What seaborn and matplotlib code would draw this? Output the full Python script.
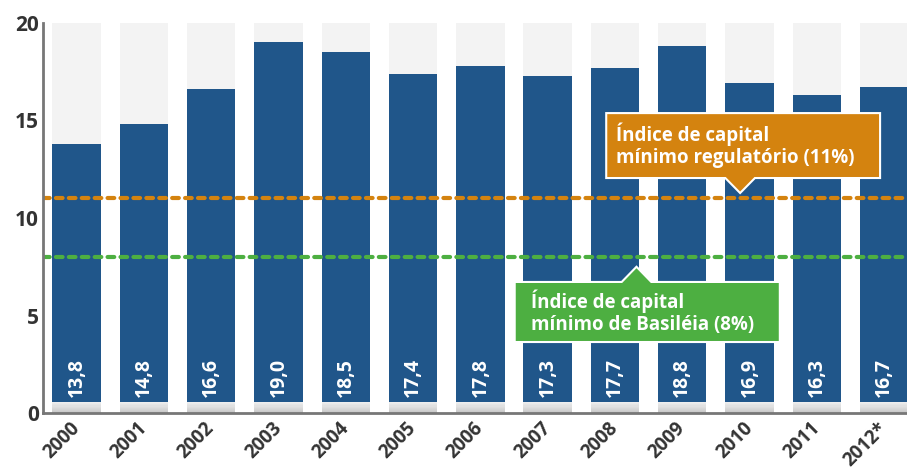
import matplotlib
matplotlib.use("Agg")
import matplotlib.pyplot as plt
import matplotlib.transforms as mtransforms
import seaborn as sns
import pandas as pd
import numpy as np
from matplotlib.patches import Polygon

years = ["2000", "2001", "2002", "2003", "2004", "2005", "2006", "2007",
         "2008", "2009", "2010", "2011", "2012*"]
values = [13.8, 14.8, 16.6, 19.0, 18.5, 17.4, 17.8, 17.3, 17.7, 18.8, 16.9, 16.3, 16.7]
labels = ["13,8", "14,8", "16,6", "19,0", "18,5", "17,4", "17,8", "17,3",
          "17,7", "18,8", "16,9", "16,3", "16,7"]
reg_min = 11
basel_min = 8
reg_text = "Índice de capital\nmínimo regulatório (11%)"
basel_text = "Índice de capital\nmínimo de Basiléia (8%)"

BLUE = "#20568a"
ORANGE = "#d4830f"
GREEN = "#4daf41"
BG = "#f3f3f3"

sns.set_theme(style="white")
plt.rcParams["font.family"] = ["Open Sans", "DejaVu Sans"]

df = pd.DataFrame({"year": years, "value": values, "top": [20] * len(years)})

fig = plt.figure(figsize=(9.07, 4.69), dpi=100)
ax = fig.add_axes([43 / 907, 56 / 469, 1 - 43 / 907, (413 - 23) / 469])

sns.barplot(data=df, x="year", y="top", color=BG, width=0.72, ax=ax,
            saturation=1, edgecolor="none")
sns.barplot(data=df, x="year", y="value", color=BLUE, width=0.72, ax=ax,
            saturation=1, edgecolor="none")

# grey strip at bar bottoms
for i in range(len(years)):
    n = 10
    for k in range(n):
        c = 0.78 + 0.17 * (k / n)
        ax.fill_between([i - 0.36, i + 0.36], k * 0.55 / n, (k + 1) * 0.55 / n,
                        color=(c, c, c), lw=0, zorder=3)

for i, lab in enumerate(labels):
    ax.text(i, 0.8, lab, rotation=90, ha="center", va="bottom", color="white",
            fontsize=14, fontweight="bold", zorder=5)

ax.axhline(reg_min, color=ORANGE, lw=3, ls=(0, (1.6, 1.5)),
           dash_capstyle="round", zorder=4)
ax.axhline(basel_min, color=GREEN, lw=3, ls=(0, (1.6, 1.5)),
           dash_capstyle="round", zorder=4)

def callout(x0, x1, y0, y1, tipx, tipy, up, color, text, tx, ty):
    hw = 0.22
    if up:
        pts = [(x0, y1), (tipx - hw, y1), (tipx, tipy), (tipx + hw, y1),
               (x1, y1), (x1, y0), (x0, y0)]
    else:
        pts = [(x0, y1), (x1, y1), (x1, y0), (tipx + hw, y0), (tipx, tipy),
               (tipx - hw, y0), (x0, y0)]
    ax.add_patch(Polygon(pts, closed=True, facecolor=color, edgecolor="white",
                         lw=1.5, zorder=6))
    ax.text(tx, ty, text, color="white", fontsize=13.5, fontweight="bold",
            ha="left", va="center", linespacing=1.15, zorder=7)

callout(7.87, 11.94, 12.05, 15.38, 9.86, 11.28, False, ORANGE, reg_text, 8.02, 13.72)
callout(6.51, 10.45, 3.64, 6.72, 8.32, 7.5, True, GREEN, basel_text, 6.75, 5.18)

ax.set_xlim(-0.5, 12.34)
ax.set_ylim(0, 20)
ax.set_xlabel("")
ax.set_ylabel("")
ax.set_yticks([0, 5, 10, 15, 20])
ax.set_yticklabels(["0", "5", "10", "15", "20"], fontsize=15, fontweight="bold",
                   color="#333333")
ax.set_xticks(range(len(years)))
ax.set_xticklabels(years, rotation=45, ha="right", rotation_mode="anchor",
                   fontsize=13.5, fontweight="bold", color="#333333")
ax.tick_params(axis="x", which="major", length=0, pad=4)
ax.set_xticks(np.arange(0.5, 12.0, 1.0), minor=True)
ax.tick_params(axis="x", which="minor", direction="in", length=6, width=1.5,
               color="#777777")
ax.tick_params(axis="y", which="major", direction="in", length=11, width=1.5,
               color="#777777", pad=3)
offset = mtransforms.ScaledTranslation(-7 / 100, 0, fig.dpi_scale_trans)
for t in ax.get_xticklabels():
    t.set_transform(t.get_transform() + offset)

for s in ["top", "right"]:
    ax.spines[s].set_visible(False)
for s in ["left", "bottom"]:
    ax.spines[s].set_color("#777777")
    ax.spines[s].set_linewidth(2)
    ax.spines[s].set_zorder(8)
ax.set_facecolor("white")

fig.savefig("out.png", dpi=100)
